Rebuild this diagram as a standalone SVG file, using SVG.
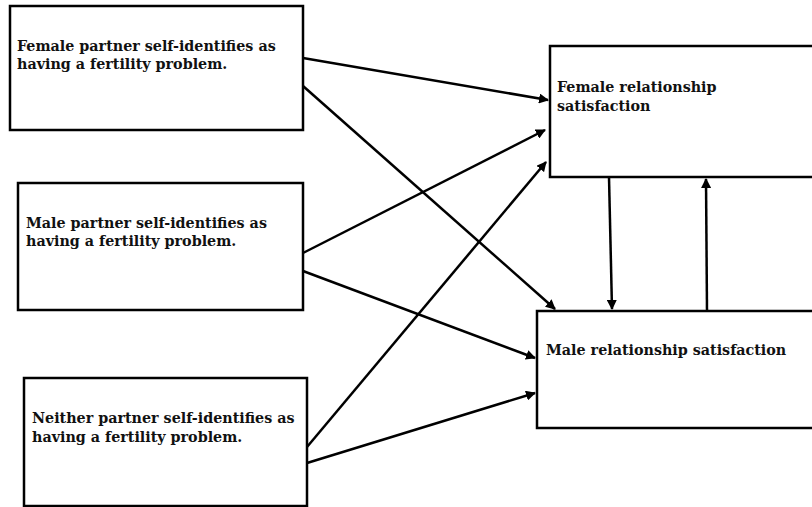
<svg xmlns="http://www.w3.org/2000/svg" width="812" height="507" viewBox="0 0 812 507">
<style>
.box{fill:#fff;stroke:#000;stroke-width:2.5}
.t{font-family:"DejaVu Serif","Liberation Serif",serif;font-weight:bold;font-size:14.3px;fill:#111}
.c{stroke:#000;stroke-width:2.5;fill:none;marker-end:url(#ah)}
</style>
<defs>
<marker id="ah" viewBox="0 0 10 10" refX="9" refY="5" markerWidth="4" markerHeight="4" orient="auto" markerUnits="strokeWidth">
<path d="M0,0 L10,5 L0,10 z" fill="#000"/>
</marker>
</defs>
<rect width="812" height="507" fill="#fff"/>
<g id="n1"><rect class="box" x="10" y="6" width="293" height="124"/>
<text class="t" x="17" y="51">Female partner self-identifies as</text>
<text class="t" x="17" y="69">having a fertility problem.</text></g>
<g id="n2"><rect class="box" x="18" y="183" width="285" height="127"/>
<text class="t" x="26" y="228">Male partner self-identifies as</text>
<text class="t" x="26" y="246">having a fertility problem.</text></g>
<g id="n3"><rect class="box" x="24" y="378" width="283" height="128"/>
<text class="t" x="32" y="423">Neither partner self-identifies as</text>
<text class="t" x="32" y="442">having a fertility problem.</text></g>
<g id="n4"><rect class="box" x="550" y="46" width="270" height="131"/>
<text class="t" x="557" y="92">Female relationship</text>
<text class="t" x="557" y="111">satisfaction</text></g>
<g id="n5"><rect class="box" x="537" y="311" width="283" height="117"/>
<text class="t" x="546" y="355">Male relationship satisfaction</text></g>
<g id="connectors">
<line class="c" x1="303" y1="58" x2="548" y2="100"/>
<line class="c" x1="303" y1="86" x2="555" y2="309"/>
<line class="c" x1="303" y1="253" x2="545" y2="130"/>
<line class="c" x1="303" y1="271" x2="535" y2="358"/>
<line class="c" x1="307" y1="447" x2="546" y2="162"/>
<line class="c" x1="307" y1="463" x2="535" y2="393"/>
<line class="c" x1="609" y1="177" x2="612" y2="309"/>
<line class="c" x1="707" y1="311" x2="706" y2="179"/>
</g>
</svg>
